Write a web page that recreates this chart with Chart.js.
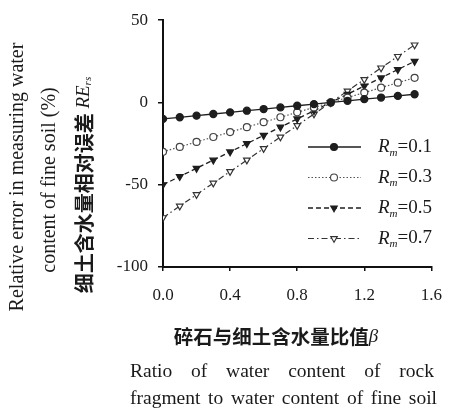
<!DOCTYPE html>
<html>
<head>
<meta charset="utf-8">
<script src="https://cdn.jsdelivr.net/npm/chart.js@4.4.1/dist/chart.umd.min.js"></script>
<style>
  body { margin: 0; background: #fff; }
  #wrap { width: 456px; height: 419px; position: relative; }
</style>
</head>
<body>
<div id="wrap"><canvas id="chart"></canvas></div>
<script>
// ratio of water content, rock fragment / fine soil
const beta = [0.0, 0.1, 0.2, 0.3, 0.4, 0.5, 0.6, 0.7, 0.8, 0.9, 1.0, 1.1, 1.2, 1.3, 1.4, 1.5];
// relative error (%) for each Rm
const re01 = [-10, -9, -8, -7, -6, -5, -4, -3, -2, -1, 0, 1, 2, 3, 4, 5];
const re03 = [-30, -27, -24, -21, -18, -15, -12, -9, -6, -3, 0, 3, 6, 9, 12, 15];
const re05 = [-50, -45, -40, -35, -30, -25, -20, -15, -10, -5, 0, 5, 10, 15, 20, 25];
const re07 = [-70, -63, -56, -49, -42, -35, -28, -21, -14, -7, 0, 7, 14, 21, 28, 35];
const seriesLabels = ['0.1', '0.3', '0.5', '0.7'];
const xTicks = [0.0, 0.4, 0.8, 1.2, 1.6];
const yTicks = [-100, -50, 0, 50];

const serif = '"Liberation Serif", "Times New Roman", serif';
const cjk = '"Noto Sans CJK SC", sans-serif';

function pts(ys) {
    return ys.map((y, i) => ({ x: beta[i], y: y }));
}

function drawRuns(ctx, runs, cx, cy) {
    let total = 0;
    runs.forEach(r => { ctx.font = r.font; r.w = ctx.measureText(r.text).width; total += r.w; });
    let x = cx - total / 2;
    ctx.textBaseline = 'middle';
    ctx.textAlign = 'left';
    runs.forEach(r => {
        ctx.font = r.font;
        ctx.fillText(r.text, x, cy + (r.dy || 0));
        x += r.w;
    });
}

function drawJustified(ctx, text, font, x0, x1, y) {
    const words = text.split(' ');
    ctx.font = font;
    const widths = words.map(w => ctx.measureText(w).width);
    const sum = widths.reduce((a, b) => a + b, 0);
    const gap = (x1 - x0 - sum) / (words.length - 1);
    let x = x0;
    ctx.textBaseline = 'middle';
    ctx.textAlign = 'left';
    words.forEach((w, i) => { ctx.fillText(w, x, y); x += widths[i] + gap; });
}

const titlesPlugin = {
    id: 'titles',
    afterDraw(chart) {
        const ctx = chart.ctx;
        ctx.save();
        ctx.fillStyle = '#1a1a1a';
        // y axis titles (rotated)
        ctx.save();
        ctx.translate(18, 177);
        ctx.rotate(-Math.PI / 2);
        drawRuns(ctx, [{ text: 'Relative error in measuring water', font: '20px ' + serif }], 0, 0);
        ctx.restore();
        ctx.save();
        ctx.translate(50, 180);
        ctx.rotate(-Math.PI / 2);
        drawRuns(ctx, [{ text: 'content of fine soil (%)', font: '20px ' + serif }], 0, 0);
        ctx.restore();
        ctx.save();
        ctx.translate(84, 185);
        ctx.rotate(-Math.PI / 2);
        drawRuns(ctx, [
            { text: '细土含水量相对误差 ', font: 'bold 20px ' + cjk },
            { text: 'RE', font: 'italic 19px ' + serif },
            { text: 'rs', font: 'italic 11px ' + serif, dy: 4 }
        ], 0, 0);
        ctx.restore();
        // x axis titles
        drawRuns(ctx, [
            { text: '碎石与细土含水量比值', font: 'bold 19.5px ' + cjk },
            { text: 'β', font: 'italic 19px ' + serif }
        ], 276, 337);
        drawJustified(ctx, 'Ratio of water content of rock', '19.5px ' + serif, 130, 434, 372);
        drawJustified(ctx, 'fragment to water content of fine soil', '19.5px ' + serif, 130, 437, 399);
        ctx.restore();
    }
};

const legendPlugin = {
    id: 'rmLegend',
    afterDatasetsDraw(chart) {
        const ctx = chart.ctx;
        ctx.save();
        chart.data.datasets.forEach((ds, i) => {
            const y = 147 + i * 30.5;
            ctx.strokeStyle = ds.borderColor;
            ctx.lineWidth = ds.borderWidth;
            ctx.setLineDash(ds.borderDash || []);
            ctx.beginPath();
            ctx.moveTo(308, y);
            ctx.lineTo(361, y);
            ctx.stroke();
            ctx.setLineDash([]);
            ctx.fillStyle = ds.pointBackgroundColor;
            ctx.strokeStyle = ds.pointBorderColor;
            ctx.lineWidth = 1.1;
            Chart.helpers.drawPoint(ctx, {
                pointStyle: ds.pointStyle,
                rotation: ds.pointRotation || 0,
                radius: ds.pointRadius,
                borderWidth: 1.1
            }, 334, y);
            ctx.fillStyle = '#1a1a1a';
            drawRuns(ctx, [
                { text: 'R', font: 'italic 19px ' + serif },
                { text: 'm', font: 'italic 11px ' + serif, dy: 6 },
                { text: '=' + seriesLabels[i], font: '19px ' + serif }
            ], 405, y);
        });
        ctx.restore();
    }
};

const black = '#1e1e1e';
const datasets = [
    { data: pts(re01), borderColor: black, borderWidth: 1.3, pointStyle: 'circle', pointRadius: 3.5,
      pointBackgroundColor: black, pointBorderColor: black },
    { data: pts(re03), borderColor: '#555', borderWidth: 1.2, borderDash: [1.5, 2], pointStyle: 'circle', pointRadius: 3.5,
      pointBackgroundColor: '#fff', pointBorderColor: '#444' },
    { data: pts(re05), borderColor: black, borderWidth: 1.3, borderDash: [5, 3], pointStyle: 'triangle', pointRotation: 180,
      pointRadius: 3.8, pointBackgroundColor: black, pointBorderColor: black },
    { data: pts(re07), borderColor: '#333', borderWidth: 1.2, borderDash: [6, 3, 1.5, 3], pointStyle: 'triangle', pointRotation: 180,
      pointRadius: 3.8, pointBackgroundColor: '#fff', pointBorderColor: '#333' }
];

new Chart(document.getElementById('chart'), {
    type: 'line',
    data: { datasets: datasets },
    options: {
        responsive: true,
        maintainAspectRatio: false,
        animation: false,
        layout: { padding: { left: 115, right: 16, top: 18, bottom: 112 } },
        plugins: { legend: { display: false }, tooltip: { enabled: false } },
        elements: { point: { borderWidth: 1.1 }, line: { tension: 0 } },
        scales: {
            x: {
                type: 'linear', min: 0, max: 1.6,
                afterBuildTicks: s => { s.ticks = xTicks.map(v => ({ value: v })); },
                afterFit: s => { s.height = 40; },
                border: { display: true, color: '#111', width: 2 },
                grid: { drawOnChartArea: false, drawTicks: true, tickLength: 4, color: '#111', lineWidth: 1.5 },
                ticks: { color: '#1a1a1a', font: { family: serif, size: 17 }, padding: 14, maxRotation: 0,
                         callback: v => v.toFixed(1) }
            },
            y: {
                min: -100, max: 50,
                afterBuildTicks: s => { s.ticks = yTicks.map(v => ({ value: v })); },
                afterFit: s => { s.width = 48; },
                border: { display: true, color: '#111', width: 2 },
                grid: { drawOnChartArea: false, drawTicks: true, tickLength: 5, color: '#111', lineWidth: 1.5 },
                ticks: { color: '#1a1a1a', font: { family: serif, size: 17 }, padding: 10 }
            }
        }
    },
    plugins: [legendPlugin, titlesPlugin]
});
</script>
</body>
</html>
